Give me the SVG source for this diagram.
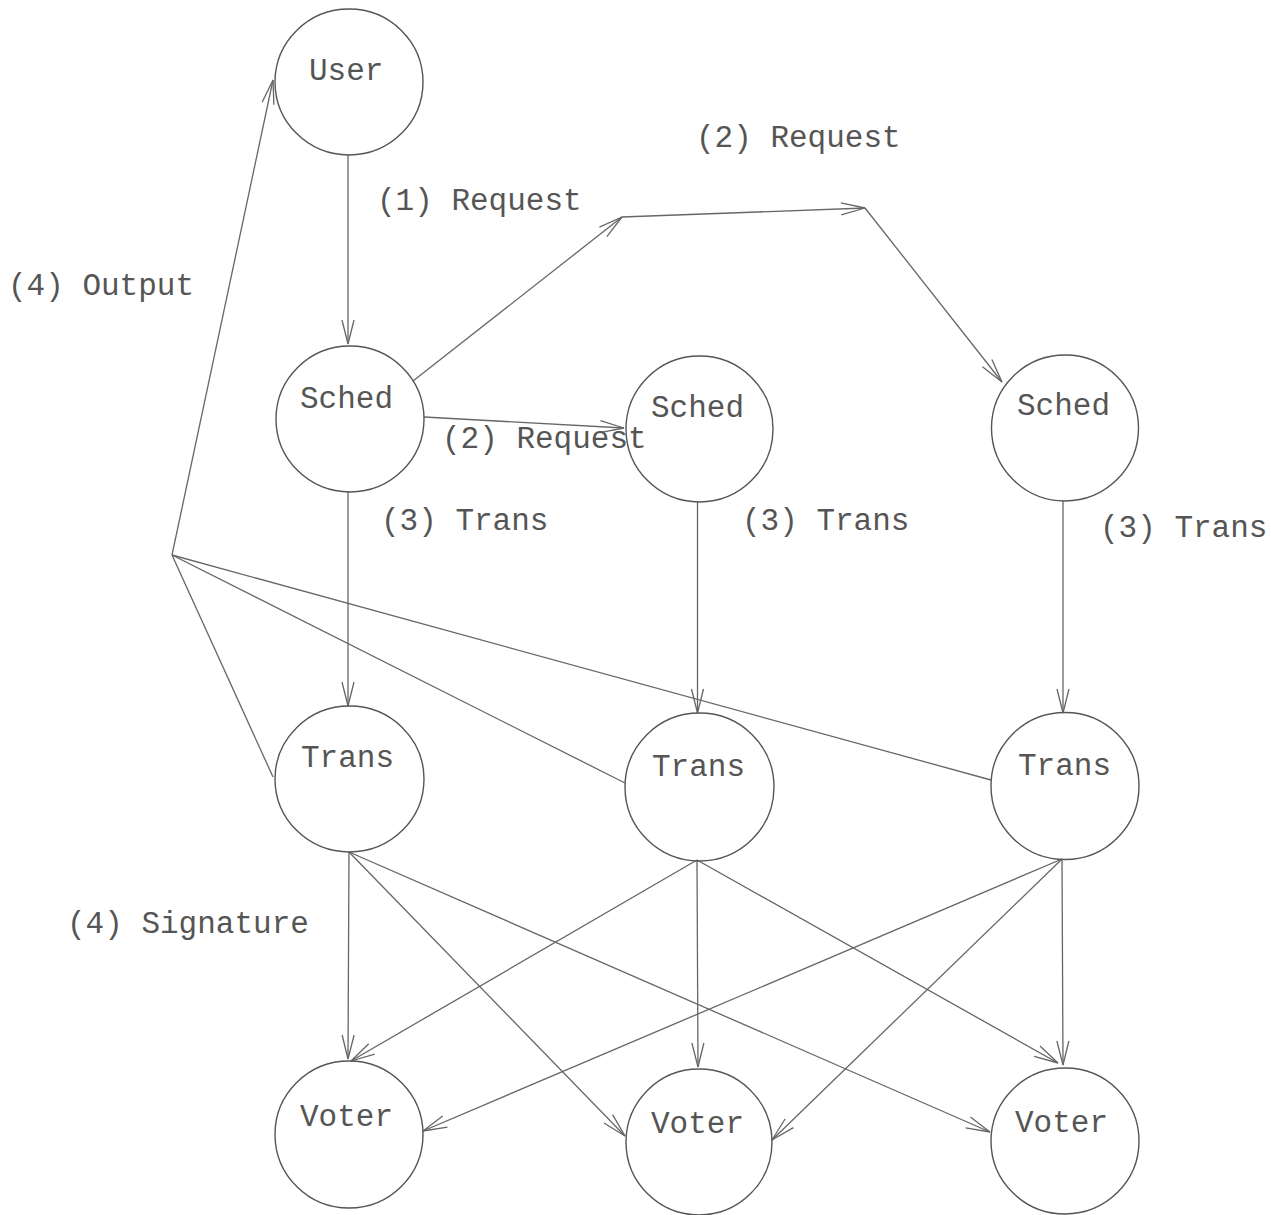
<svg xmlns="http://www.w3.org/2000/svg" width="1271" height="1215" viewBox="0 0 1271 1215">
<style>
.node{fill:none;stroke:#555;stroke-width:1.4}
.lbl{font-family:"Liberation Mono","Courier New",monospace;font-size:31px;fill:#555}
.edge{stroke:#666;stroke-width:1.3;fill:none}
.arr{marker-end:url(#ah)}
</style>
<defs>
<marker id="ah" viewBox="-26 -9 28 18" markerWidth="28" markerHeight="18" refX="0" refY="0" orient="auto" markerUnits="userSpaceOnUse">
<path d="M-24,-6 L0,0 L-24,6" fill="none" stroke="#666" stroke-width="1.3"/>
</marker>
</defs>
<rect width="1271" height="1215" fill="#fff"/>
<g id="connectors">
<line class="edge arr" x1="348" y1="155" x2="348" y2="344"/>
<line class="edge arr" x1="413" y1="381" x2="622" y2="217"/>
<line class="edge arr" x1="622" y1="217" x2="865" y2="208"/>
<line class="edge arr" x1="865" y1="208" x2="1002" y2="382"/>
<line class="edge arr" x1="424" y1="417" x2="624" y2="428"/>
<line class="edge arr" x1="348" y1="491" x2="348" y2="706"/>
<line class="edge arr" x1="697.5" y1="502" x2="697.5" y2="713"/>
<line class="edge arr" x1="1063" y1="501" x2="1063" y2="713"/>
<line class="edge" x1="273" y1="777" x2="172" y2="555"/>
<line class="edge" x1="625" y1="783" x2="172" y2="555"/>
<line class="edge" x1="991" y1="780" x2="172" y2="555"/>
<line class="edge arr" x1="172" y1="555" x2="273" y2="80"/>
<line class="edge arr" x1="349" y1="852" x2="348" y2="1059"/>
<line class="edge arr" x1="349" y1="852" x2="625" y2="1136"/>
<line class="edge arr" x1="349" y1="852" x2="990" y2="1132"/>
<line class="edge arr" x1="697" y1="860" x2="351" y2="1061"/>
<line class="edge arr" x1="697" y1="860" x2="698" y2="1067"/>
<line class="edge arr" x1="697" y1="860" x2="1058" y2="1063"/>
<line class="edge arr" x1="1062" y1="859" x2="423" y2="1131"/>
<line class="edge arr" x1="1062" y1="859" x2="772" y2="1140"/>
<line class="edge arr" x1="1062" y1="859" x2="1063" y2="1065"/>
</g>
<g id="labels">
<text class="lbl" x="377" y="210">(1) Request</text>
<text class="lbl" x="696" y="147">(2) Request</text>
<text class="lbl" x="442" y="448">(2) Request</text>
<text class="lbl" x="8" y="295">(4) Output</text>
<text class="lbl" x="381" y="530">(3) Trans</text>
<text class="lbl" x="742" y="530">(3) Trans</text>
<text class="lbl" x="1100" y="537">(3) Trans</text>
<text class="lbl" x="67" y="933">(4) Signature</text>
</g>
<g id="user"><ellipse class="node" cx="349" cy="82" rx="74" ry="73"/><text class="lbl" x="309" y="80">User</text></g>
<g id="sched1"><ellipse class="node" cx="350" cy="419" rx="74" ry="73"/><text class="lbl" x="300" y="408">Sched</text></g>
<g id="sched2"><ellipse class="node" cx="699.5" cy="429" rx="73.5" ry="73"/><text class="lbl" x="651" y="417">Sched</text></g>
<g id="sched3"><ellipse class="node" cx="1065" cy="428" rx="73.5" ry="73"/><text class="lbl" x="1017" y="415">Sched</text></g>
<g id="trans1"><ellipse class="node" cx="349.5" cy="779" rx="74.5" ry="73"/><text class="lbl" x="301" y="767">Trans</text></g>
<g id="trans2"><ellipse class="node" cx="699.5" cy="787" rx="74.5" ry="74"/><text class="lbl" x="652" y="776">Trans</text></g>
<g id="trans3"><ellipse class="node" cx="1065" cy="786" rx="74" ry="73.5"/><text class="lbl" x="1018" y="775">Trans</text></g>
<g id="voter1"><ellipse class="node" cx="349" cy="1134.5" rx="74" ry="73.5"/><text class="lbl" x="300" y="1126">Voter</text></g>
<g id="voter2"><ellipse class="node" cx="699" cy="1142" rx="73" ry="73"/><text class="lbl" x="651" y="1133">Voter</text></g>
<g id="voter3"><ellipse class="node" cx="1065" cy="1141" rx="74" ry="73"/><text class="lbl" x="1015" y="1132">Voter</text></g>
</svg>
